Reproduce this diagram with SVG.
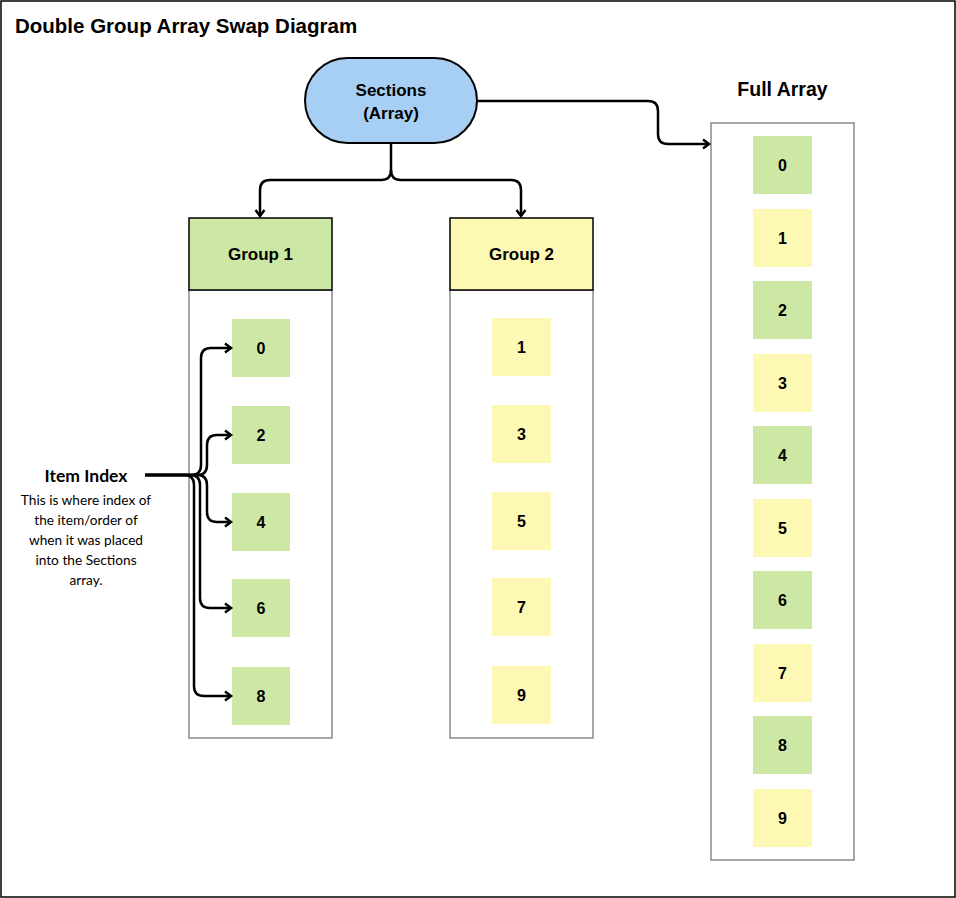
<svg xmlns="http://www.w3.org/2000/svg" width="956" height="898" viewBox="0 0 956 898">
<style>
.lbl{font-family:"Liberation Sans",Arial,sans-serif;font-weight:bold;fill:#000;text-anchor:middle}
.num{font-size:16px}
.g{fill:#cde8a5}
.y{fill:#fdf8b4}
.box{fill:#fff;stroke:#8a8a8a;stroke-width:1.5}
.conn{fill:none;stroke:#000;stroke-width:2.5;marker-end:url(#arr)}
.note{font-family:Lato,"Open Sans",sans-serif;fill:#000;text-anchor:middle}
</style>
<defs>
<marker id="arr" markerUnits="userSpaceOnUse" markerWidth="12" markerHeight="12" refX="8" refY="6" orient="auto">
<path d="M2,1.5 L8,6 L2,10.5" fill="none" stroke="#000" stroke-width="2.5"/>
</marker>
</defs>
<rect x="1" y="1" width="954" height="896" fill="#fff" stroke="#000" stroke-width="1.5"/>
<text x="15" y="33" font-family="Liberation Sans,Arial,sans-serif" font-weight="bold" font-size="20.5">Double Group Array Swap Diagram</text>

<g id="sections">
<rect x="305" y="58" width="172" height="85" rx="42.5" fill="#a7cff3" stroke="#000" stroke-width="2"/>
<text class="lbl" x="391" y="96" font-size="17">Sections</text>
<text class="lbl" x="391" y="119" font-size="17">(Array)</text>
</g>

<g id="group1">
<rect class="box" x="189" y="290" width="143" height="448"/>
<rect x="189" y="218" width="143" height="72" fill="#cce8a4" stroke="#000" stroke-width="1.5"/>
<text class="lbl" x="260.5" y="260" font-size="17">Group 1</text>
</g>
<g id="g1-items">
<rect class="g" x="232" y="319" width="58" height="58"/><text class="lbl num" x="261" y="354">0</text>
<rect class="g" x="232" y="406" width="58" height="58"/><text class="lbl num" x="261" y="441">2</text>
<rect class="g" x="232" y="493" width="58" height="58"/><text class="lbl num" x="261" y="528">4</text>
<rect class="g" x="232" y="579" width="58" height="58"/><text class="lbl num" x="261" y="614">6</text>
<rect class="g" x="232" y="667" width="58" height="58"/><text class="lbl num" x="261" y="702">8</text>
</g>

<g id="group2">
<rect class="box" x="450" y="290" width="143" height="448"/>
<rect x="450" y="218" width="143" height="72" fill="#fdf8b4" stroke="#000" stroke-width="1.5"/>
<text class="lbl" x="521.5" y="260" font-size="17">Group 2</text>
</g>
<g id="g2-items">
<rect class="y" x="492" y="318" width="59" height="58"/><text class="lbl num" x="521.5" y="353">1</text>
<rect class="y" x="492" y="405" width="59" height="58"/><text class="lbl num" x="521.5" y="440">3</text>
<rect class="y" x="492" y="492" width="59" height="58"/><text class="lbl num" x="521.5" y="527">5</text>
<rect class="y" x="492" y="578" width="59" height="58"/><text class="lbl num" x="521.5" y="613">7</text>
<rect class="y" x="492" y="666" width="59" height="58"/><text class="lbl num" x="521.5" y="701">9</text>
</g>

<g id="full-array">
<text class="lbl" x="782.5" y="96" font-size="19.5">Full Array</text>
<rect class="box" x="711" y="123" width="143" height="737"/>
<rect class="g" x="753" y="136" width="59" height="58"/><text class="lbl num" x="782.5" y="171">0</text>
<rect class="y" x="753" y="209" width="59" height="58"/><text class="lbl num" x="782.5" y="244">1</text>
<rect class="g" x="753" y="281" width="59" height="58"/><text class="lbl num" x="782.5" y="316">2</text>
<rect class="y" x="753" y="354" width="59" height="58"/><text class="lbl num" x="782.5" y="389">3</text>
<rect class="g" x="753" y="426" width="59" height="58"/><text class="lbl num" x="782.5" y="461">4</text>
<rect class="y" x="753" y="499" width="59" height="58"/><text class="lbl num" x="782.5" y="534">5</text>
<rect class="g" x="753" y="571" width="59" height="58"/><text class="lbl num" x="782.5" y="606">6</text>
<rect class="y" x="753" y="644" width="59" height="58"/><text class="lbl num" x="782.5" y="679">7</text>
<rect class="g" x="753" y="716" width="59" height="58"/><text class="lbl num" x="782.5" y="751">8</text>
<rect class="y" x="753" y="789" width="59" height="58"/><text class="lbl num" x="782.5" y="824">9</text>
</g>

<g id="item-index">
<text class="note" x="86" y="482" font-size="17.5" font-weight="bold">Item Index</text>
<text class="note" x="86" y="504.5" font-size="13.7">This is where index of</text>
<text class="note" x="86" y="524.5" font-size="13.7">the item/order of</text>
<text class="note" x="86" y="544.5" font-size="13.7">when it was placed</text>
<text class="note" x="86" y="564.5" font-size="13.7">into the Sections</text>
<text class="note" x="86" y="584.5" font-size="13.7">array.</text>
</g>

<g id="connectors">
<path class="conn" d="M391,143 V170 Q391,180 381,180 H270 Q260,180 260,190 V216"/>
<path class="conn" d="M391,170 Q391,180 401,180 H511 Q521,180 521,190 V216"/>
<path class="conn" d="M477,101 H648 Q658,101 658,111 V134 Q658,144 668,144 H709"/>
<path class="conn" d="M145,475 H191 Q201,475 201,465 V358 Q201,348 211,348 H231"/>
<path class="conn" d="M145,475 H197 Q207,475 207,465 V445 Q207,435 217,435 H231"/>
<path class="conn" d="M145,475 H197 Q207,475 207,485 V512 Q207,522 217,522 H231"/>
<path class="conn" d="M145,475 H190 Q200,475 200,485 V598 Q200,608 210,608 H231"/>
<path class="conn" d="M145,475 H184 Q194,475 194,485 V686 Q194,696 204,696 H231"/>
</g>
</svg>
